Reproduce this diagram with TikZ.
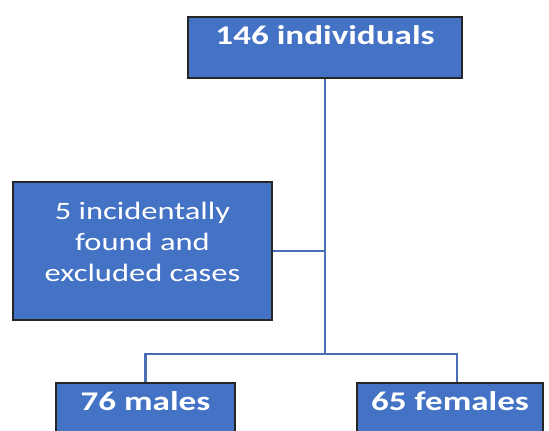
\documentclass[tikz,border=0pt]{standalone}
\usepackage{fontspec}
\setmainfont[FakeStretch=1.3]{Carlito}
\usepackage{tikz}
\definecolor{boxblue}{HTML}{4472C4}
\definecolor{lineblue}{HTML}{4A6FB5}

\begin{document}
\begin{tikzpicture}[x=0.5pt, y=-0.5pt,
    box_node/.style={rectangle, draw=black!85, line width=0.8pt, fill=boxblue, text=white, inner sep=0pt},
    link/.style={draw=lineblue, line width=1.1pt}]

    \clip (0, 0) rectangle (549, 431);
    \useasboundingbox (0, 0) rectangle (549, 431);

    \node[box_node, anchor=base, minimum width=137pt, text height=14pt, text depth=16.5pt,
        font=\fontsize{13.5}{16}\selectfont\bfseries] (1) at (325, 45) {146 individuals};
    \node[box_node, anchor=base, minimum width=129.5pt, text height=50pt, text depth=19pt, align=center,
        font=\fontsize{12.5}{15.5}\selectfont] (2) at (142.5, 282) {5 incidentally\\found and\\excluded cases};
    \node[box_node, anchor=base, minimum width=89.5pt, text height=13.5pt, text depth=20pt,
        font=\fontsize{13.5}{16}\selectfont\bfseries] (3) at (145.5, 410) {76 males};
    \node[box_node, anchor=base, minimum width=93pt, text height=13.5pt, text depth=20pt,
        font=\fontsize{13.5}{16}\selectfont\bfseries] (4) at (450, 410) {65 females};
    \coordinate (5) at (325, 354);
    \coordinate (6) at (457, 354);

    \draw[link] (1) -- (5);
    \draw[link] (2) -- (2 -| 1);
    \draw[link] (3) |- (5) -- (6) -- (6 |- 4.north);
\end{tikzpicture}
\end{document}
